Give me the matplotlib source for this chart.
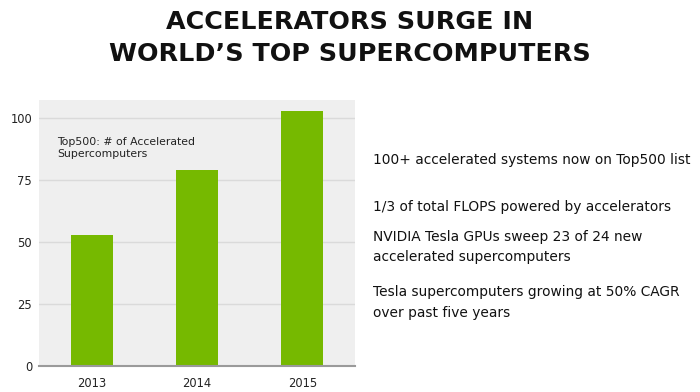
import matplotlib
matplotlib.use("Agg")
import matplotlib.pyplot as plt

years = ["2013", "2014", "2015"]
counts = [53, 79, 103]
yticks = [0, 25, 50, 75, 100]
title_lines = ["ACCELERATORS SURGE IN", "WORLD\u2019S TOP SUPERCOMPUTERS"]
chart_note = "Top500: # of Accelerated\nSupercomputers"
bullets = [
    "100+ accelerated systems now on Top500 list",
    "1/3 of total FLOPS powered by accelerators",
    "NVIDIA Tesla GPUs sweep 23 of 24 new\naccelerated supercomputers",
    "Tesla supercomputers growing at 50% CAGR\nover past five years",
]

plt.rcParams['font.family'] = ['DejaVu Sans']
fig = plt.figure(figsize=(7, 3.92), dpi=100)
fig.patch.set_facecolor("white")

ax = fig.add_axes([39/700, 1-366/392, 316/700, 266/392])
ax.set_facecolor("#efefef")
x = list(range(len(years)))
ax.bar(x, counts, width=0.4, color="#76b900", zorder=3)
ax.set_xlim(-0.5, 2.5)
ax.set_ylim(0, 107.4)
ax.set_yticks(yticks)
ax.set_xticks(x)
ax.set_xticklabels(years)
ax.yaxis.grid(True, color="#dadada", linewidth=1, zorder=0)
ax.tick_params(length=0, labelsize=8.3, colors="#222222")
ax.tick_params(axis='x', pad=8)
ax.tick_params(axis='y', pad=5)
for s in ["top", "left", "right"]:
    ax.spines[s].set_visible(False)
ax.spines["bottom"].set_color("#9a9a9a")
ax.spines["bottom"].set_linewidth(1.5)
ax.spines["bottom"].set_zorder(4)

fig.text(57/700, 1-148/392, chart_note, fontsize=7.8,
         color="#222222", va="center", ha="left", linespacing=1.2)

fig.text(0.5, 1-22/392, title_lines[0], ha="center", va="center",
         fontsize=18.3, fontweight="bold", color="#111111")
fig.text(0.5, 1-54/392, title_lines[1], ha="center", va="center",
         fontsize=18.3, fontweight="bold", color="#111111")

ys = [160, 207, 247, 302.5]
for yy, t in zip(ys, bullets):
    fig.text(373/700, 1-yy/392, t, ha="left", va="center", fontsize=9.9,
             color="#111111", linespacing=1.55)

fig.savefig("out.png", dpi=100)
